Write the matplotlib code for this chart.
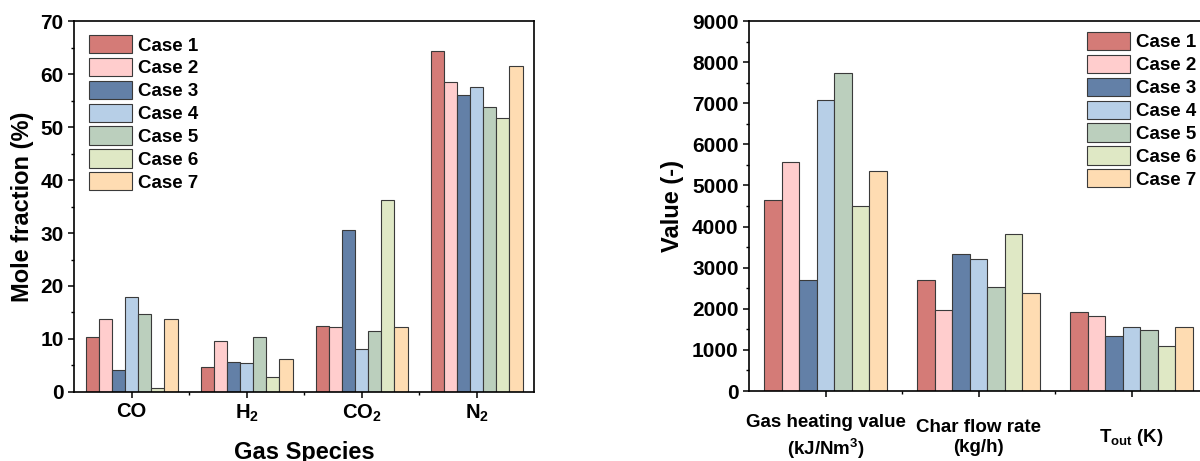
import numpy as np
import matplotlib
matplotlib.use('Agg')
import matplotlib.pyplot as plt
from matplotlib.ticker import MultipleLocator, FixedLocator

plt.rcParams['font.family'] = 'Liberation Sans'
plt.rcParams['font.weight'] = 'bold'
plt.rcParams['axes.labelweight'] = 'bold'
plt.rcParams['mathtext.fontset'] = 'custom'
plt.rcParams['mathtext.rm'] = 'Liberation Sans:bold'
plt.rcParams['mathtext.bf'] = 'Liberation Sans:bold'
plt.rcParams['mathtext.it'] = 'Liberation Sans:bold'
plt.rcParams['mathtext.default'] = 'bf'

cases = ['Case 1', 'Case 2', 'Case 3', 'Case 4', 'Case 5', 'Case 6', 'Case 7']
colors = ['#d47b77', '#ffcdcd', '#6380a7', '#b7cfe7', '#bbcfbd', '#dfe8c5', '#fedcb2']

# left: gas composition (mole fraction, %)
species = ['CO', 'H$_2$', 'CO$_2$', 'N$_2$']
frac_CO = [10.4, 13.8, 4.2, 18.0, 14.7, 0.7, 13.8]
frac_H2 = [4.7, 9.6, 5.6, 5.5, 10.3, 2.9, 6.2]
frac_CO2 = [12.5, 12.3, 30.6, 8.2, 11.5, 36.3, 12.3]
frac_N2 = [64.4, 58.5, 56.0, 57.6, 53.7, 51.7, 61.5]

# right: performance values
params = ['Gas heating value\n(kJ/Nm$^3$)', 'Char flow rate\n(kg/h)', 'T$_{out}$ (K)']
heating = [4640, 5580, 2700, 7080, 7740, 4510, 5340]
charflow = [2700, 1980, 3330, 3210, 2540, 3830, 2380]
tout = [1920, 1830, 1340, 1550, 1480, 1090, 1550]

frac = np.array([frac_CO, frac_H2, frac_CO2, frac_N2]).T
vals = np.array([heating, charflow, tout]).T

w = 0.8/7
fig = plt.figure(figsize=(12, 4.61), dpi=100)
ax = fig.add_axes([0.0617, 0.1497, 0.3833, 0.8047])
ax2 = fig.add_axes([0.6242, 0.1518, 0.3825, 0.8026])

x1 = np.arange(len(species))
for j in range(7):
    ax.bar(x1+(j-3)*w, frac[j], w, color=colors[j], edgecolor='#3a3a3a', linewidth=0.8, label=cases[j])
x2 = np.arange(len(params))
for j in range(7):
    ax2.bar(x2+(j-3)*w, vals[j], w, color=colors[j], edgecolor='#3a3a3a', linewidth=0.8, label=cases[j])

ax.set_xlim(-0.5, 3.5)
ax.set_ylim(0, 70)
ax.yaxis.set_major_locator(MultipleLocator(10))
ax.yaxis.set_minor_locator(MultipleLocator(5))
ax.set_xticks(x1)
ax.set_xticklabels(species)
ax.xaxis.set_minor_locator(FixedLocator([0.5, 1.5, 2.5]))
ax.set_ylabel('Mole fraction (%)', fontsize=17, va='center')
ax.yaxis.set_label_coords(-0.113, 0.5)
ax.set_xlabel('Gas Species', fontsize=17, va='center')
ax.xaxis.set_label_coords(0.5, -0.162)

ax2.set_xlim(-0.5, 2.5)
ax2.set_ylim(0, 9000)
ax2.yaxis.set_major_locator(MultipleLocator(1000))
ax2.yaxis.set_minor_locator(MultipleLocator(500))
ax2.set_xticks(x2)
ax2.set_xticklabels(params, linespacing=1.3)
ax2.xaxis.set_minor_locator(FixedLocator([0.5, 1.5, 2.5]))
ax2.set_ylabel('Value (-)', fontsize=17, va='center')
ax2.yaxis.set_label_coords(-0.166, 0.5)

for a in [ax, ax2]:
    for s in a.spines.values():
        s.set_linewidth(1.2)
    a.tick_params(which='major', direction='out', length=4.5, width=1.1, pad=3)
    a.tick_params(which='minor', direction='out', length=2.5, width=1.0)
    a.tick_params(axis='y', labelsize=15)
ax.tick_params(axis='x', labelsize=14.5, pad=3)
ax2.tick_params(axis='x', labelsize=13.5, pad=29)
for a in [ax, ax2]:
    for lab in a.get_xticklabels() + a.get_yticklabels():
        lab.set_fontweight('bold')
for lab in ax2.get_xticklabels():
    lab.set_va('center')

ax.legend(loc='upper left', bbox_to_anchor=(0.0742, 0.924), bbox_transform=fig.transFigure,
          frameon=False, fontsize=13.5, borderpad=0, borderaxespad=0,
          handlelength=2.3, handleheight=1.12, labelspacing=0.18, handletextpad=0.3)
ax2.legend(loc='upper left', bbox_to_anchor=(0.9058, 0.9306), bbox_transform=fig.transFigure,
           frameon=False, fontsize=13.5, borderpad=0, borderaxespad=0,
           handlelength=2.3, handleheight=1.12, labelspacing=0.18, handletextpad=0.3)

fig.savefig('out.png', dpi=100)
